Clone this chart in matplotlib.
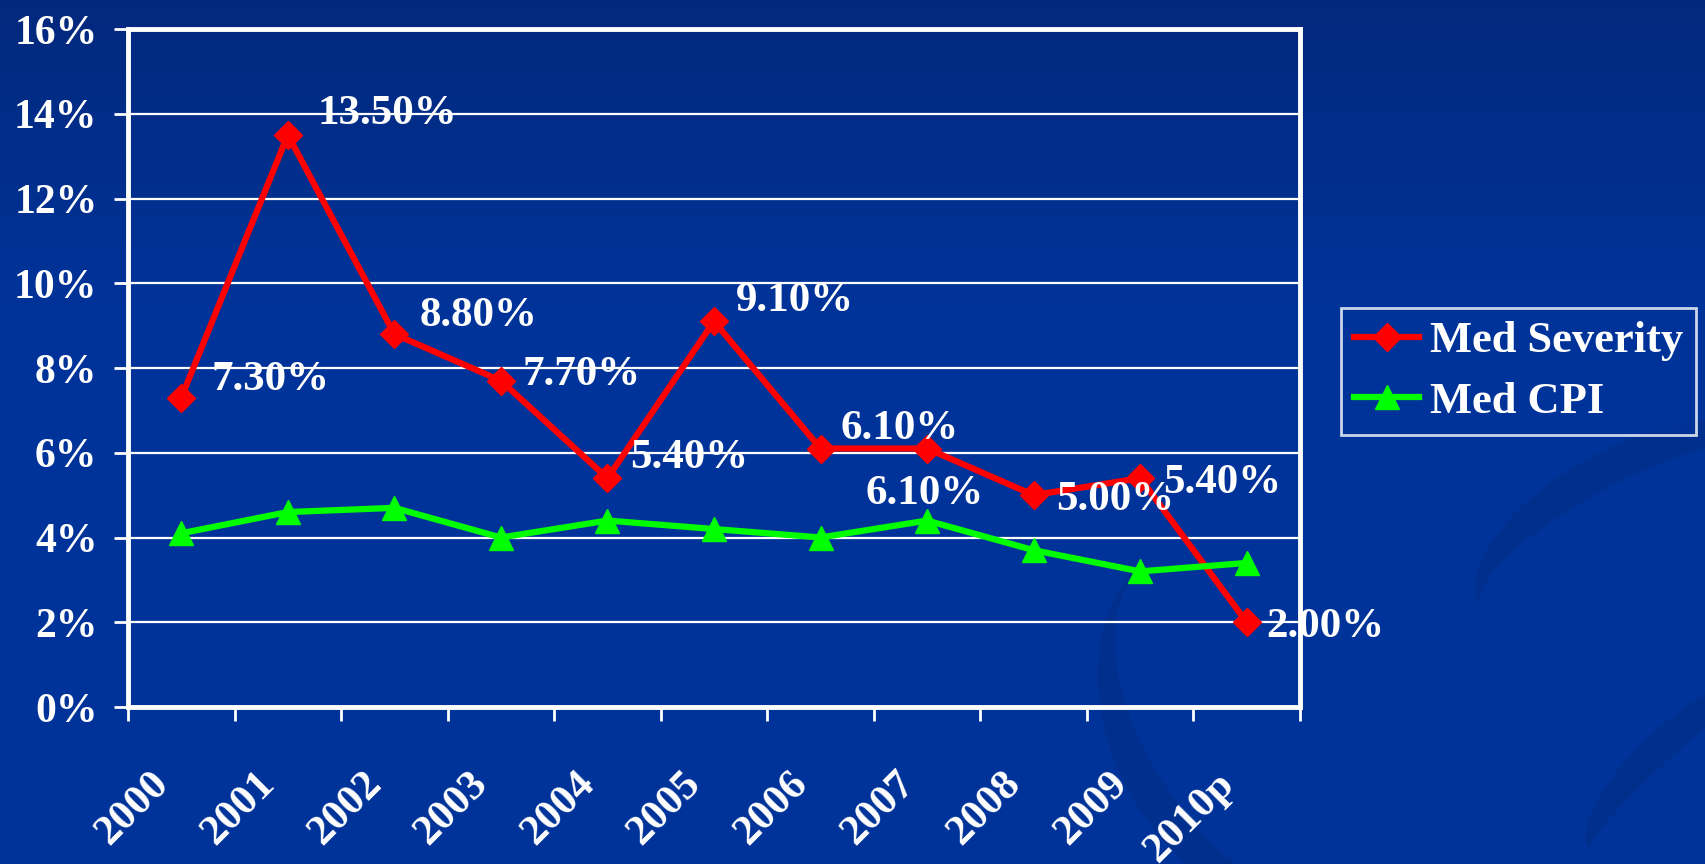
import matplotlib
matplotlib.use("Agg")
import matplotlib.pyplot as plt
import numpy as np
from matplotlib.patches import Polygon

years = ["2000", "2001", "2002", "2003", "2004", "2005", "2006", "2007", "2008", "2009", "2010p"]
med_severity = [7.3, 13.5, 8.8, 7.7, 5.4, 9.1, 6.1, 6.1, 5.0, 5.4, 2.0]
med_cpi = [4.1, 4.6, 4.7, 4.0, 4.4, 4.2, 4.0, 4.4, 3.7, 3.2, 3.4]
severity_labels = ["7.30%", "13.50%", "8.80%", "7.70%", "5.40%", "9.10%", "6.10%", "6.10%", "5.00%", "5.40%", "2.00%"]
yticks = [0, 2, 4, 6, 8, 10, 12, 14, 16]

# label offsets in pixels (dx, dy)
label_offsets = [(30, 18), (30, 21), (25, 18), (22, 6), (23, 20), (22, 20), (20, 20), (-62, -45), (22, -5), (23, -5), (20, -5)]

plt.rcParams['font.family'] = ['Liberation Serif', 'DejaVu Serif']
plt.rcParams['font.weight'] = 'bold'

BG = '#003399'
fig = plt.figure(figsize=(17.05, 8.64), dpi=100)
fig.patch.set_facecolor(BG)

# background gradient + subtle swirl crescents
bg = fig.add_axes([0, 0, 1, 1], zorder=-10)
bg.set_xlim(0, 1705); bg.set_ylim(864, 0); bg.axis('off')
grad = np.linspace(0, 1, 256).reshape(-1, 1)
top = np.array([0.01, 0.16, 0.49]); mid = np.array([0.0, 0.2, 0.6])
t = np.clip(grad / 0.35, 0, 1)
img = (top * (1 - t) + mid * t).reshape(256, 1, 3)
bg.imshow(img, extent=[0, 1705, 864, 0], aspect='auto', zorder=0)


def crescent(p1, p2, a_out, a_in, side):
    p1 = np.array(p1, float); p2 = np.array(p2, float)
    m = (p1 + p2) / 2
    d = p2 - p1
    b = np.linalg.norm(d) / 2
    u = d / (2 * b)
    n = np.array([-u[1], u[0]]) * side
    s = np.linspace(0, np.pi, 120)
    outer = m + np.outer(-b * np.cos(s), u) + np.outer(a_out * np.sin(s), n)
    inner = m + np.outer(-b * np.cos(s[::-1]), u) + np.outer(a_in * np.sin(s[::-1]), n)
    return np.vstack([outer, inner])


swirl = '#002f8d'
for p1, p2, ao, ai, sd in [((1790, 450), (1480, 610), 85, 50, 1),
                           ((1150, 555), (1430, 900), 170, 135, 1),
                           ((1780, 680), (1590, 850), 45, 15, 1)]:
    bg.add_patch(Polygon(crescent(p1, p2, ao, ai, sd), closed=True, facecolor=swirl, edgecolor='none', zorder=1))

ax = fig.add_axes([128/1705, 1 - 707/864, (1300 - 128)/1705, (707 - 29)/864])
ax.patch.set_alpha(0)
x = np.arange(len(years))

ax.plot(x, med_severity, color='#ff0000', lw=4.5, marker='D', markersize=14, label='Med Severity', zorder=4, clip_on=False)
ax.plot(x, med_cpi, color='#00ff00', lw=4.5, marker='^', markersize=17, label='Med CPI', zorder=5, clip_on=False)

for xi, yi, lab, (dx, dy) in zip(x, med_severity, severity_labels, label_offsets):
    ax.annotate(lab, (xi, yi), xytext=(dx, dy), textcoords='offset pixels', ha='left', va='center',
                color='white', fontsize=31, fontweight='bold', zorder=6, annotation_clip=False)

ax.set_xlim(-0.5, len(years) - 0.5)
ax.set_ylim(0, 16)
ax.set_yticks(yticks)
ax.set_yticklabels([f"{v}%" for v in yticks], fontsize=30, color='white', fontweight='bold')
ax.yaxis.grid(True, color='white', lw=1.6)
ax.set_axisbelow(True)

# category labels drawn at category centres, rotated 45 degrees
ax.set_xticks(x)
ax.set_xticklabels([])
for xi, yr in zip(x, years):
    ax.annotate(yr, (xi, 0), xycoords=('data', 'axes fraction'), xytext=(-32, -58),
                textcoords='offset pixels', rotation=45, rotation_mode='anchor',
                ha='right', va='top', fontsize=31, color='white', fontweight='bold',
                annotation_clip=False)
ax.set_xticks(np.arange(-0.5, len(years)), minor=True)
ax.tick_params(axis='x', which='major', length=0)
ax.tick_params(axis='x', which='minor', length=10, width=2, color='white', direction='out')
ax.tick_params(axis='y', length=10, width=2, color='white', direction='out', pad=12)

for s in ax.spines.values():
    s.set_color('white')
    s.set_linewidth(3.5)

leg = fig.legend(loc='upper left', bbox_to_anchor=(1341/1705, 1 - 308/864), frameon=True,
                 prop={'family': 'Liberation Serif', 'weight': 'bold', 'size': 32},
                 handlelength=1.45, handletextpad=0.25, borderpad=0.3, labelspacing=0.45, borderaxespad=0)
leg.get_frame().set_facecolor(BG)
leg.get_frame().set_edgecolor('white')
leg.get_frame().set_linewidth(2)
leg.get_frame().set_boxstyle('square', pad=0)
for txt in leg.get_texts():
    txt.set_color('white')

fig.savefig('out.png', dpi=100, facecolor=fig.get_facecolor())
